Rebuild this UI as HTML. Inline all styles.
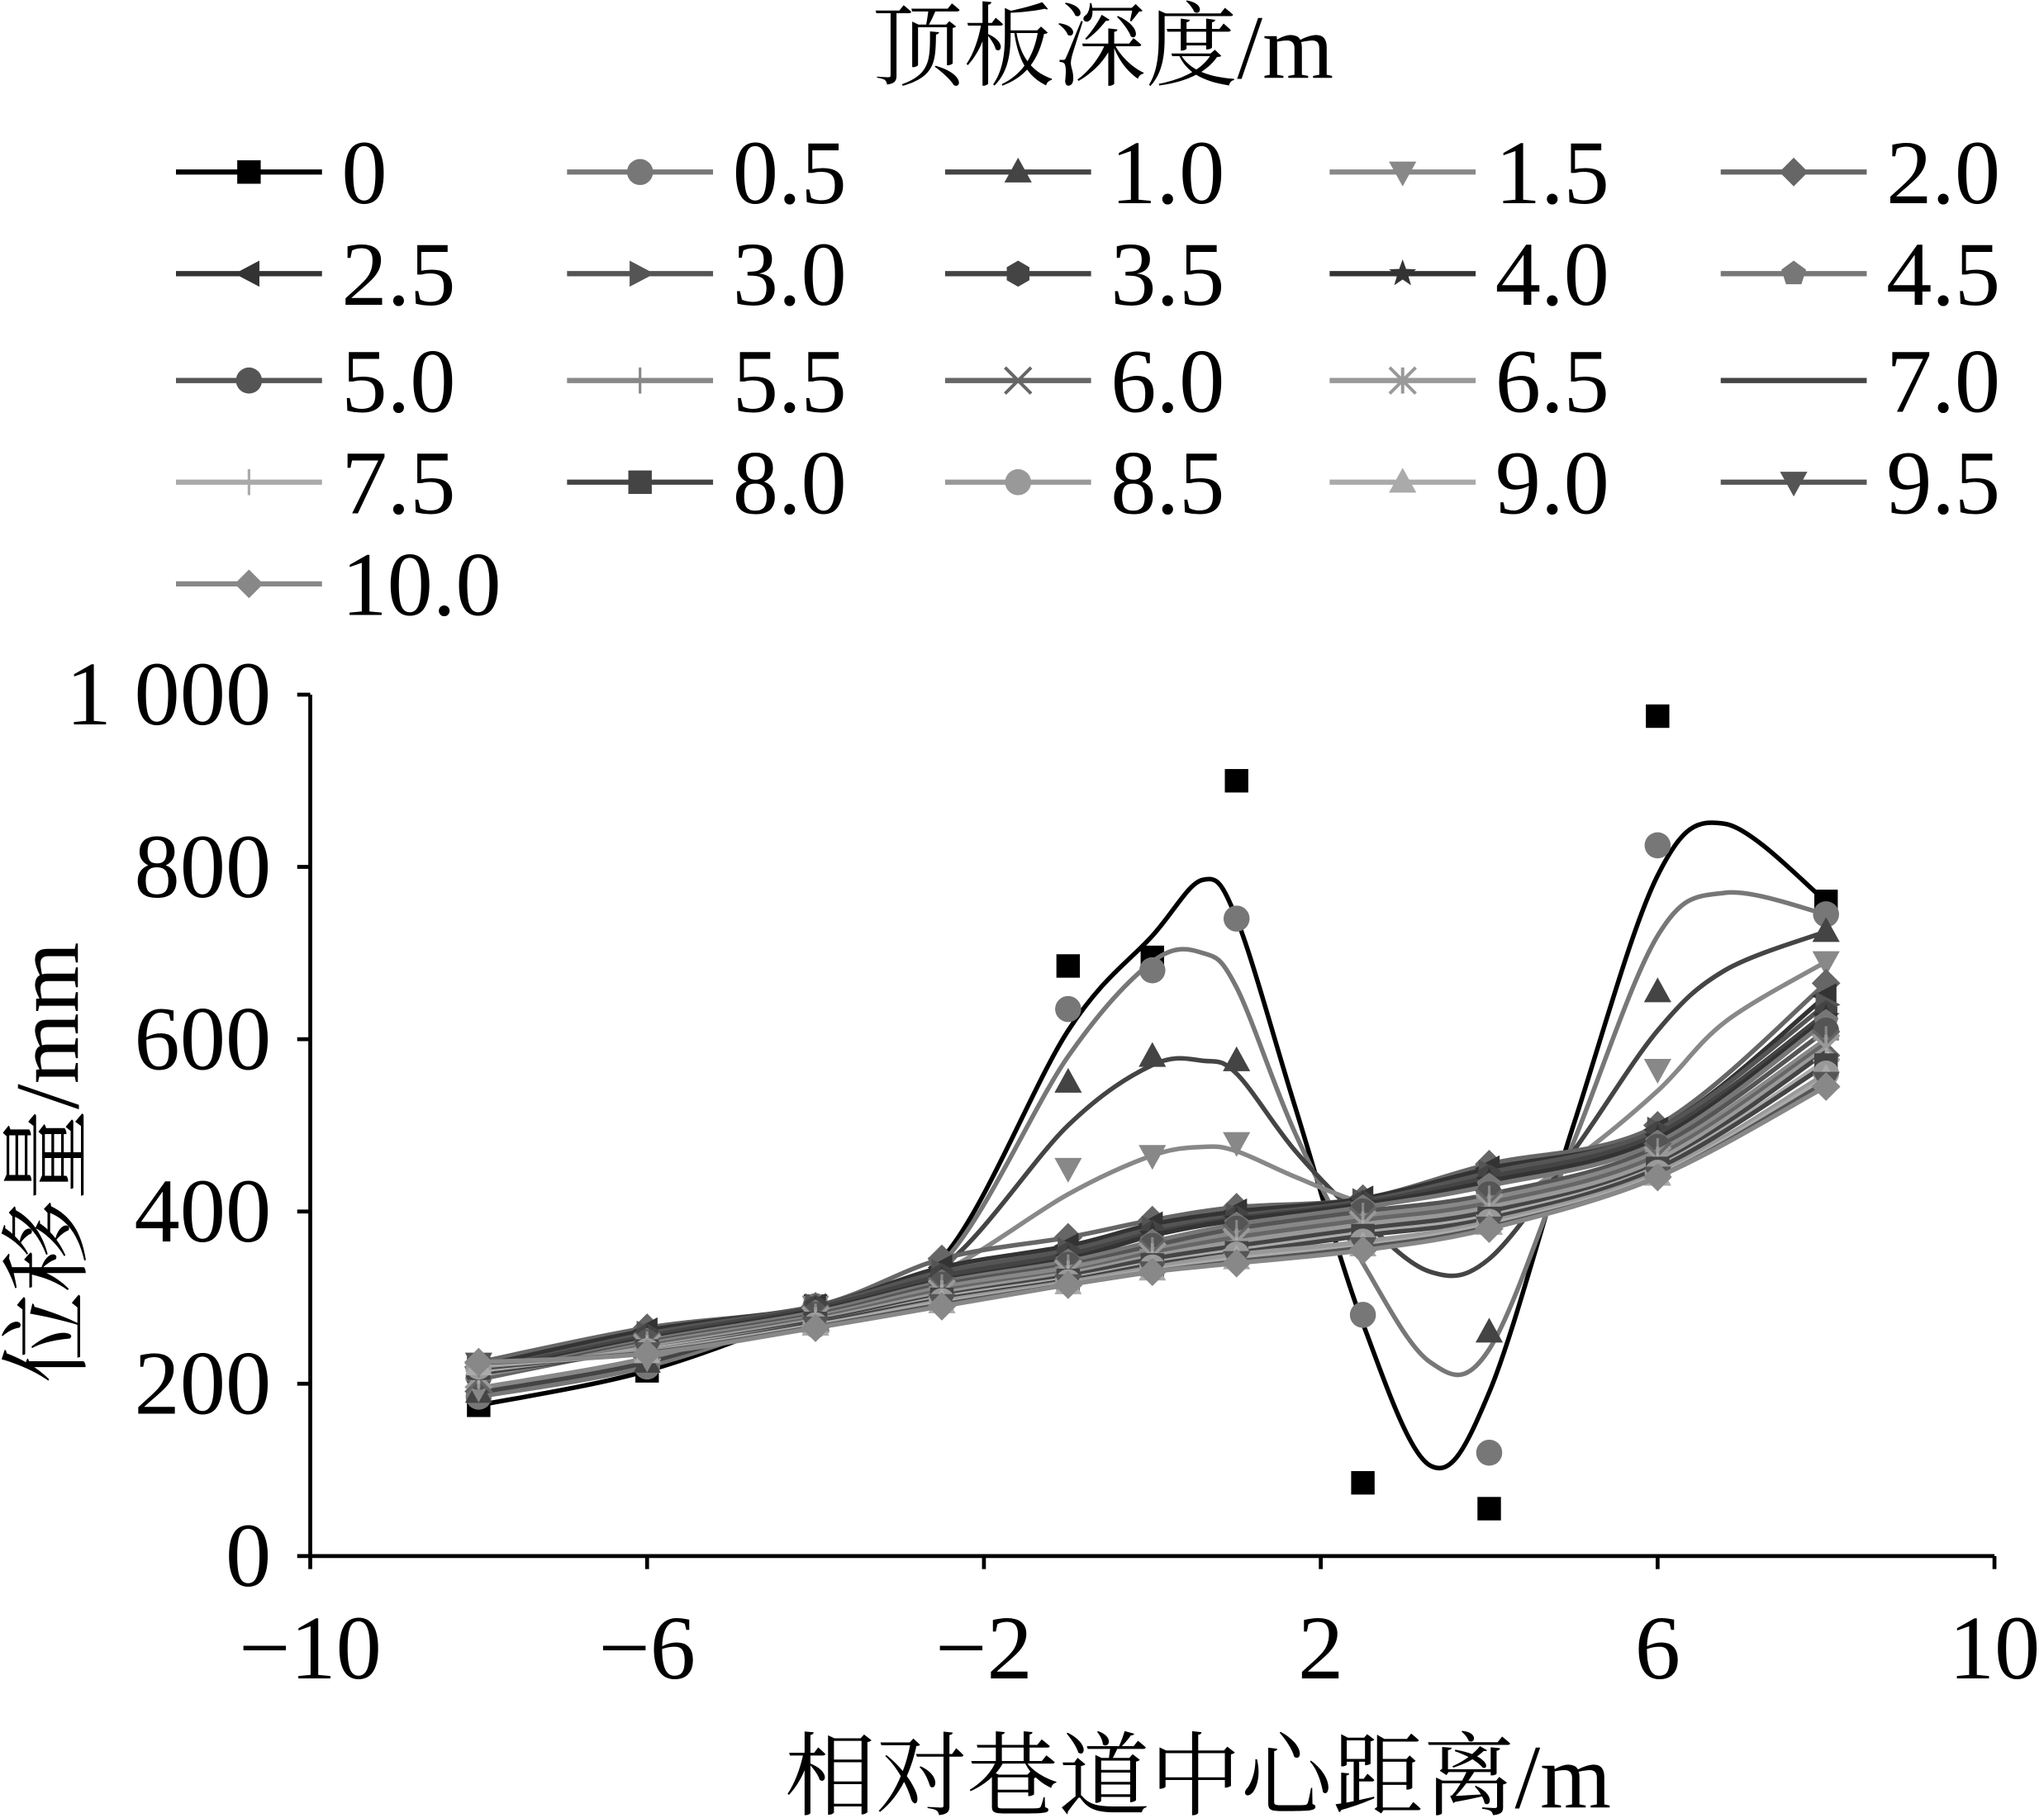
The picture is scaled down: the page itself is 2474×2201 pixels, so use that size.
<!DOCTYPE html>
<html><head><meta charset="utf-8"><style>
html,body{margin:0;padding:0;background:#fff}
svg{display:block}
text{font-family:"Liberation Serif","Noto Serif CJK SC",serif;fill:#000}
</style></head><body>
<svg id="chart" width="2474" height="2201" viewBox="0 0 1568 1395" preserveAspectRatio="none" xmlns="http://www.w3.org/2000/svg">
<rect width="1568" height="1395" fill="#fff"/>
<text x="846" y="60" font-size="70" text-anchor="middle">顶板深度/m</text>
<g id="legend"></g>
<g id="axes">
<line x1="238" y1="533" x2="238" y2="1194" stroke="#000" stroke-width="3"/>
<line x1="238" y1="1194" x2="1530" y2="1194" stroke="#000" stroke-width="3"/>
</g>
<g id="series"></g>
<text x="919" y="1387" font-size="70" text-anchor="middle">相对巷道中心距离/m</text>
<text transform="translate(60,892) rotate(-90)" font-size="70" text-anchor="middle">位移量/mm</text>
</svg>
<script>
const xCats=[-8,-6,-4,-2.5,-1,0,1,2.5,4,6,8];
const seriesNames=["0","0.5","1.0","1.5","2.0","2.5","3.0","3.5","4.0","4.5","5.0","5.5","6.0","6.5","7.0","7.5","8.0","8.5","9.0","9.5","10.0"];
const s00=[175,215,290,330,685,695,900,85,55,975,760];
const s05=[185,220,290,335,635,680,740,280,120,825,745];
const s10=[190,225,290,335,550,580,575,380,260,655,725];
const s15=[195,230,290,335,450,465,480,395,410,565,690];
const s20=[225,265,290,345,370,390,405,415,455,500,665];
const s25=[220,262,290,335,360,385,400,415,450,495,650];
const s30=[215,258,290,330,355,380,395,412,445,495,640];
const s35=[215,255,288,325,350,375,392,410,440,490,630];
const s40=[212,252,285,320,345,372,390,408,435,485,625];
const s45=[210,250,283,318,342,365,385,405,430,480,620];
const s50=[208,248,280,315,338,360,380,400,420,475,610];
const s55=[205,246,278,312,335,355,375,395,415,470,600];
const s60=[205,244,276,308,330,352,370,390,410,465,595];
const s65=[210,242,274,305,328,348,365,385,405,460,590];
const s70=[212,240,272,302,325,345,360,380,400,455,585];
const s75=[215,240,270,300,322,340,355,375,395,452,575];
const s80=[218,238,270,298,320,338,352,372,392,450,570];
const s85=[220,238,268,296,318,335,350,365,388,445,560];
const s90=[222,236,268,294,316,332,345,360,385,442,555];
const s95=[224,236,266,292,315,330,342,358,382,440,550];
const s100=[225,235,265,290,315,330,340,355,380,440,545];
const allSeries=[s00,s05,s10,s15,s20,s25,s30,s35,s40,s45,s50,s55,s60,s65,s70,s75,s80,s85,s90,s95,s100];
// fitted trend-curve values for the shallow series
const fitX=[-8,-6,-4,-2.5,-1,0,0.6,1,1.7,2.5,3.3,4,5,6,6.8,8];
const fit00=[175,215,285,345,610,720,785,740,520,270,105,190,500,790,850,760];
const fit05=[185,220,285,340,580,690,700,660,490,340,225,240,480,720,770,745];
const fit10=[190,225,285,335,500,570,575,560,470,390,330,345,470,610,680,725];
const fit15=[195,230,285,330,420,465,475,470,440,410,395,400,460,540,620,690];
const fits=[fit00,fit05,fit10,fit15];
const yTicks=[0,200,400,600,800,1000];
const yTickLabels=["0","200","400","600","800","1 000"];
const xTicks=[-10,-6,-2,2,6,10];
const xTickLabels=["−10","−6","−2","2","6","10"];
const markers=["square","circle","tri","dtri","diamond","ltri","rtri","hex","star","pent","ball","plus","x","ast","none","plus","square","circle","tri","dtri","diamond"];
const colors=["#000","#777","#444","#888","#666","#333","#555","#444","#333","#777","#555","#888","#666","#999","#444","#aaa","#444","#999","#aaa","#555","#888"];

const NS="http://www.w3.org/2000/svg";
const X=v=>238+(v+10)*(1292/20);
const Y=v=>1194-v*(661/1000);
function mk(tag,attrs,parent){const e=document.createElementNS(NS,tag);for(const k in attrs)e.setAttribute(k,attrs[k]);parent.appendChild(e);return e;}
function marker(type,cx,cy,r,col,parent){
  let e;
  const poly=pts=>mk("polygon",{points:pts.map(p=>(cx+p[0]*r)+","+(cy+p[1]*r)).join(" "),fill:col},parent);
  switch(type){
    case "square":e=mk("rect",{x:cx-r*0.9,y:cy-r*0.9,width:r*1.8,height:r*1.8,fill:col},parent);break;
    case "circle":case "ball":e=mk("circle",{cx:cx,cy:cy,r:r,fill:col},parent);break;
    case "tri":e=poly([[0,-1.1],[1.05,0.8],[-1.05,0.8]]);break;
    case "dtri":e=poly([[0,1.1],[1.05,-0.8],[-1.05,-0.8]]);break;
    case "diamond":e=poly([[0,-1.1],[1.1,0],[0,1.1],[-1.1,0]]);break;
    case "ltri":e=poly([[-1.1,0],[0.8,-1],[0.8,1]]);break;
    case "rtri":e=poly([[1.1,0],[-0.8,-1],[-0.8,1]]);break;
    case "hex":e=poly([[0,-1],[0.87,-0.5],[0.87,0.5],[0,1],[-0.87,0.5],[-0.87,-0.5]]);break;
    case "pent":e=poly([[0,-1],[0.95,-0.31],[0.59,0.81],[-0.59,0.81],[-0.95,-0.31]]);break;
    case "star":{const p=[];for(let i=0;i<10;i++){const a=-Math.PI/2+i*Math.PI/5,rr=i%2?0.45:1.1;p.push([Math.cos(a)*rr,Math.sin(a)*rr]);}e=poly(p);break;}
    case "plus":e=mk("path",{d:`M${cx-r} ${cy}H${cx+r}M${cx} ${cy-r}V${cy+r}`,stroke:col,"stroke-width":2},parent);break;
    case "x":e=mk("path",{d:`M${cx-r} ${cy-r}L${cx+r} ${cy+r}M${cx-r} ${cy+r}L${cx+r} ${cy-r}`,stroke:col,"stroke-width":2.5},parent);break;
    case "ast":e=mk("path",{d:`M${cx-r} ${cy-r}L${cx+r} ${cy+r}M${cx-r} ${cy+r}L${cx+r} ${cy-r}M${cx} ${cy-r}V${cy+r}`,stroke:col,"stroke-width":2.5},parent);break;
    default:return null;
  }
  return e;
}
const axes=document.getElementById("axes");
yTicks.forEach((t,i)=>{
  const tk=mk("line",{x1:228,x2:238,y1:Y(t),y2:Y(t),stroke:"#000","stroke-width":3},axes);
  
  
  const lb=mk("text",{x:208,y:Y(t)+23,"font-size":70,"text-anchor":"end"},axes);
  lb.textContent=yTickLabels[i];
  
  
});
xTicks.forEach((t,i)=>{
  const tk=mk("line",{x1:X(t),x2:X(t),y1:1194,y2:1204,stroke:"#000","stroke-width":3},axes);
  
  
  const lb=mk("text",{x:X(t),y:1288,"font-size":70,"text-anchor":"middle"},axes);
  lb.textContent=xTickLabels[i];
  
  
});
function smoothPath(pts){
  let d=`M${pts[0][0]} ${pts[0][1]}`;
  for(let i=0;i<pts.length-1;i++){
    const p0=pts[i-1]||pts[i],p1=pts[i],p2=pts[i+1],p3=pts[i+2]||p2;
    const c1=[p1[0]+(p2[0]-p0[0])/6,p1[1]+(p2[1]-p0[1])/6];
    const c2=[p2[0]-(p3[0]-p1[0])/6,p2[1]-(p3[1]-p1[1])/6];
    d+=`C${c1[0]} ${c1[1]} ${c2[0]} ${c2[1]} ${p2[0]} ${p2[1]}`;
  }
  return d;
}
const sg=document.getElementById("series");
for(let k=0;k<allSeries.length;k++){
  const vals=allSeries[k];
  const g=mk("g",{},sg);
  
  
  const pts=xCats.map((x,i)=>[X(x),Y(vals[i])]);
  const linePts=fits[k]?fitX.map((x,i)=>[X(x),Y(fits[k][i])]):pts;
  const p=mk("path",{d:smoothPath(linePts),fill:"none",stroke:colors[k],"stroke-width":3.5},g);
  
  
  pts.forEach(pt=>{
    const m=marker(markers[k],pt[0],pt[1],10,colors[k],g);
    if(m){
      
      
    }
  });
}
const lg=document.getElementById("legend");
const colX=[135,435,725,1020,1320];
const rowY=[132,210,292,370,448];
seriesNames.forEach((n,i)=>{
  const c=i%5,r=Math.floor(i/5);
  const x=colX[c],y=rowY[r];
  const g=mk("g",{},lg);
  
  
  mk("line",{x1:x,x2:x+112,y1:y,y2:y,stroke:colors[i],"stroke-width":4},g);
  marker(markers[i],x+56,y,10,colors[i],g);
  const t=mk("text",{x:x+127,y:y+24,"font-size":70},g);
  t.textContent=n;
});
</script>
</body></html>
